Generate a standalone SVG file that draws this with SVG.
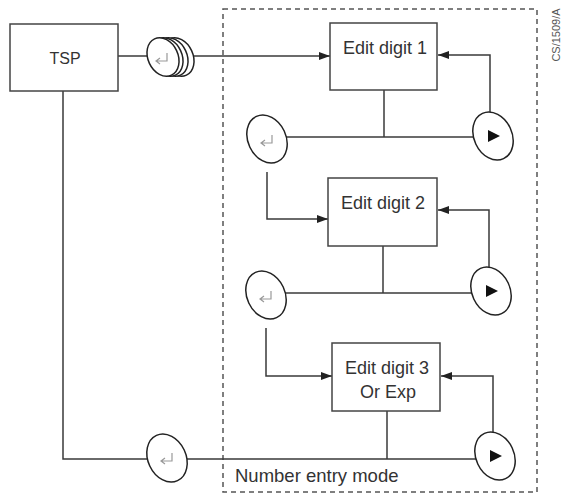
<svg xmlns="http://www.w3.org/2000/svg" xmlns:xlink="http://www.w3.org/1999/xlink" width="562" height="495" viewBox="0 0 562 495">
<style>
.ln{fill:none;stroke:#3a3a3a;stroke-width:1.5}
.box{fill:#fff;stroke:#444;stroke-width:1.5}
.ov{fill:#fff;stroke:#222;stroke-width:1.5}
.lbl{font-family:"Liberation Sans",Arial,sans-serif;font-size:18px;fill:#333;text-anchor:middle}
.ent{fill:none;stroke:#999;stroke-width:1.2}
</style>
<defs>
<marker id="ah" markerUnits="userSpaceOnUse" markerWidth="12" markerHeight="8" refX="11" refY="4" orient="auto">
<path d="M0,0 L11,4 L0,8 Z" fill="#222"/>
</marker>
<g id="enter"><path class="ent" d="M5,-5 V3 H-5 M-2,0 L-6,3 L-2,6"/></g>
<g id="play"><path d="M-5,-6 L7,0 L-5,6 Z" fill="#111"/></g>
</defs>
<rect x="223" y="9" width="314" height="483" fill="none" stroke="#555" stroke-width="1.5" stroke-dasharray="5 4"/>
<g id="connectors">
<path class="ln" d="M118,56 H150"/>
<path class="ln" d="M192,56 H330" marker-end="url(#ah)"/>
<path class="ln" d="M490,115 V55 H438" marker-end="url(#ah)"/>
<path class="ln" d="M384,90 V137"/>
<path class="ln" d="M267,137 H493"/>
<path class="ln" d="M267,172 V219 H328" marker-end="url(#ah)"/>
<path class="ln" d="M489,270 V210 H438" marker-end="url(#ah)"/>
<path class="ln" d="M383,246 V293"/>
<path class="ln" d="M266,293 H491"/>
<path class="ln" d="M266,328 V376 H332" marker-end="url(#ah)"/>
<path class="ln" d="M493,433 V376 H441" marker-end="url(#ah)"/>
<path class="ln" d="M387,411 V459"/>
<path class="ln" d="M63,91 V459 H495"/>
</g>
<g id="tsp">
<rect class="box" x="10" y="24" width="108" height="67"/>
<text class="lbl" x="65" y="64" style="font-size:16px">TSP</text>
</g>
<g id="stack-button">
<ellipse class="ov" cx="178" cy="57" rx="15" ry="20" transform="rotate(-25 178 57)"/>
<ellipse class="ov" cx="172" cy="57" rx="15" ry="20" transform="rotate(-25 172 57)"/>
<ellipse class="ov" cx="167" cy="57" rx="15" ry="20" transform="rotate(-25 167 57)"/>
<ellipse class="ov" cx="163" cy="57" rx="15" ry="20" transform="rotate(-25 163 57)"/>
<use xlink:href="#enter" x="162" y="58"/>
</g>
<g id="edit1">
<rect class="box" x="330" y="23" width="107" height="67"/>
<text class="lbl" x="385" y="54">Edit digit 1</text>
</g>
<g id="edit2">
<rect class="box" x="328" y="178" width="109" height="68"/>
<text class="lbl" x="383" y="209">Edit digit 2</text>
</g>
<g id="edit3">
<rect class="box" x="332" y="343" width="108" height="68"/>
<text class="lbl" x="387" y="374">Edit digit 3</text>
<text class="lbl" x="388" y="398">Or Exp</text>
</g>
<g id="enter1">
<ellipse class="ov" cx="267" cy="139" rx="19" ry="25" transform="rotate(-25 267 139)"/>
<use xlink:href="#enter" x="267" y="140"/>
</g>
<g id="next1">
<ellipse class="ov" cx="493" cy="136" rx="19" ry="25" transform="rotate(-25 493 136)"/>
<use xlink:href="#play" x="493" y="136"/>
</g>
<g id="enter2">
<ellipse class="ov" cx="266" cy="295" rx="19" ry="25" transform="rotate(-25 266 295)"/>
<use xlink:href="#enter" x="266" y="296"/>
</g>
<g id="next2">
<ellipse class="ov" cx="491" cy="291" rx="19" ry="25" transform="rotate(-25 491 291)"/>
<use xlink:href="#play" x="491" y="291"/>
</g>
<g id="enter3">
<ellipse class="ov" cx="167" cy="458" rx="19" ry="25" transform="rotate(-25 167 458)"/>
<use xlink:href="#enter" x="167" y="458"/>
</g>
<g id="next3">
<ellipse class="ov" cx="495" cy="456" rx="19" ry="25" transform="rotate(-25 495 456)"/>
<use xlink:href="#play" x="495" y="456"/>
</g>
<g id="mode-label">
<text x="235" y="482" style="font-family:'Liberation Sans',Arial,sans-serif;font-size:18.5px;fill:#333">Number entry mode</text>
</g>
<text x="556" y="35" transform="rotate(-90 556 35)" style="font-family:'Liberation Sans',Arial,sans-serif;font-size:11px;fill:#555;text-anchor:middle;dominant-baseline:central">CS/1509/A</text>
</svg>
